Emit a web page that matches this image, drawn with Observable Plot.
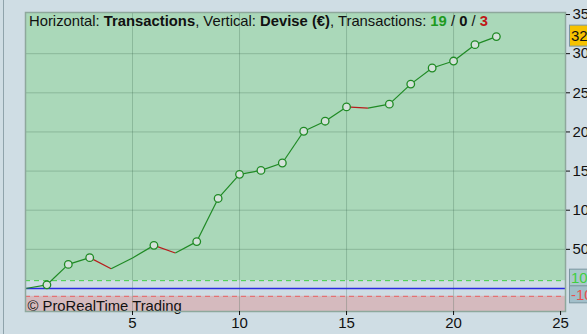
<!DOCTYPE html>
<html><head><meta charset="utf-8">
<script src="https://cdn.jsdelivr.net/npm/d3@7"></script>
<script src="https://cdn.jsdelivr.net/npm/@observablehq/plot@0.6"></script>
<style>
html,body{margin:0;padding:0;background:#cfdde4;overflow:hidden}
#chart{position:relative;width:587px;height:334px}
svg{overflow:hidden}
</style></head><body><div id="chart"></div>
<script>
// ---- data ----
const tradeIndex = [0,1,2,3,4,5,6,7,8,9,10,11,12,13,14,15,16,17,18,19,20,21,22];
const equity = [0,47,308,394,252,390,551,453,599,1150,1458,1509,1603,2009,2137,2320,2304,2355,2611,2817,2906,3115,3218];
const xTicks = [5,10,15,20,25];
const yTicks = [500,1000,1500,2000,2500,3000,3500];
const gridYTicks = [500,1000,1500,2000,2500,3000];
const bandLimits = [100,-100];
const tradeCounts = [19,0,3];
const xDomain = [0,25.23];
const yDomain = [-294,3526];

// ---- derived tables ----
const pts = tradeIndex.map((t,i)=>({t, v: equity[i]}));
const segs = pts.slice(1).map((p,i)=>({t1: pts[i].t, v1: pts[i].v, t2: p.t, v2: p.v, gain: p.v >= pts[i].v}));
let runMax = equity[0];
const highs = pts.filter((p,i)=>{ if(i===0) return false; if(p.v>runMax){runMax=p.v; return true;} return false; });

const FONT = "'Liberation Sans', Arial, sans-serif";

const plot = Plot.plot({
  width: 587, height: 334,
  marginLeft: 25, marginRight: 22, marginTop: 12, marginBottom: 23,
  style: {background: "transparent", fontFamily: FONT, fontSize: "15px", color: "#111"},
  x: {domain: xDomain, axis: null},
  y: {domain: yDomain, axis: null},
  marks: [
    Plot.rect([0], {y1: bandLimits[0], y2: yDomain[1], fill: "#aad8b9"}),
    Plot.rect([0], {y1: yDomain[0], y2: bandLimits[1], fill: "#d5babe"}),
    Plot.ruleX(xTicks.slice(0,4), {stroke: "#2f5a45", strokeOpacity: 0.25}),
    Plot.ruleY(gridYTicks, {stroke: "#2f5a45", strokeOpacity: 0.25}),
    Plot.ruleY([bandLimits[0]], {stroke: "#3fcf3f", strokeDasharray: "5,4"}),
    Plot.ruleY([bandLimits[1]], {stroke: "#e86262", strokeDasharray: "5,4"}),
    Plot.ruleY([0], {stroke: "#2a2ae0", strokeWidth: 1.3}),
    Plot.link(segs, {x1: "t1", y1: "v1", x2: "t2", y2: "v2", stroke: d => d.gain ? "#1f8a24" : "#b81c1c", strokeWidth: 1.2}),
    Plot.dot(highs, {x: "t", y: "v", r: 3.8, fill: "#d4e2da", stroke: "#1f8a24", strokeWidth: 1.3}),
    Plot.text(["© ProRealTime Trading"], {frameAnchor: "bottom-left", dx: 2, dy: -1, textAnchor: "start", fontSize: 14.8, fill: "#111"}),
    Plot.frame({stroke: "#8ea89c", strokeWidth: 1.5}),
    Plot.axisX({ticks: xTicks, tickSize: 4, tickPadding: 2, anchor: "bottom", tickFormat: d => String(d)}),
    Plot.axisY({ticks: yTicks, tickSize: 4, tickPadding: 3, anchor: "right", tickFormat: d => String(d)})
  ]
});
document.getElementById("chart").appendChild(plot);

const svg = d3.select(plot);
const ys = plot.scale("y");

// outer panel left border
svg.append("line").attr("x1",3.5).attr("x2",3.5).attr("y1",0).attr("y2",334).attr("stroke","#8fa3ab").attr("stroke-width",1);

// title
const title = svg.append("text").attr("x",29).attr("y",26).attr("text-anchor","start").attr("font-family",FONT).attr("font-size",14.8).attr("fill","#111");
title.append("tspan").text("Horizontal: ");
title.append("tspan").attr("font-weight","bold").text("Transactions");
title.append("tspan").text(", Vertical: ");
title.append("tspan").attr("font-weight","bold").text("Devise (€)");
title.append("tspan").text(", Transactions: ");
title.append("tspan").attr("font-weight","bold").attr("fill","#1e9a1e").text(String(tradeCounts[0]));
title.append("tspan").text(" / ");
title.append("tspan").attr("font-weight","bold").text(String(tradeCounts[1]));
title.append("tspan").text(" / ");
title.append("tspan").attr("font-weight","bold").attr("fill","#c01818").text(String(tradeCounts[2]));

// right value boxes
function box(top, bottom, fill, color, text){
  const g = svg.append("g");
  g.append("rect").attr("x",569.5).attr("y",top).attr("width",30).attr("height",bottom-top).attr("fill",fill).attr("stroke","#7b96a0");
  g.append("text").attr("x",571).attr("y",(top+bottom)/2).attr("dy","0.36em").attr("text-anchor","start").attr("font-family",FONT).attr("font-size",15).attr("fill",color).text(text);
}
const last = equity[equity.length-1];
const yl = ys.apply(last);
box(yl-11, yl+10, "#f6c200", "#111", String(last));
const yg = ys.apply(bandLimits[0]);
box(yg-11, yg+6, "#a9c9cb", "#3fcf3f", String(bandLimits[0]));
const yr = ys.apply(bandLimits[1]);
box(yr-10, yr+7, "#a2bfca", "#e85050", String(bandLimits[1]));
</script></body></html>
